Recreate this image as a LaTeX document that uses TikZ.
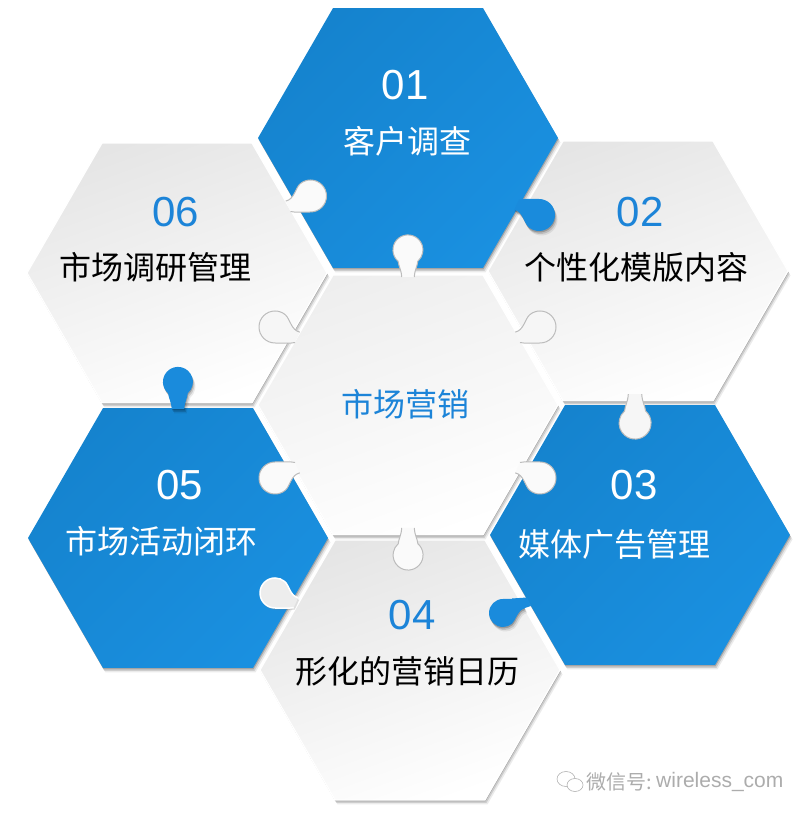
\documentclass[tikz,border=0pt]{standalone}
\usepackage{fontspec}
\setmainfont{Liberation Sans}
\newfontfamily\cjk{Noto Sans CJK SC}
\usepackage{xcolor}
\usetikzlibrary{shapes.geometric, shadows}
\definecolor{hexblue}{HTML}{1A8BDC}
\definecolor{hexbluedark}{HTML}{1583CE}
\definecolor{hexbluelight}{HTML}{1A90E0}
\definecolor{numblue}{HTML}{1C84D8}
\definecolor{rimgrey}{HTML}{BCBCBC}
\newcommand{\commatab}[4]{%
  \path[shift={(#1)}, rotate=#2, scale=#3, #4]
    (-1.25,.97) .. controls (-.9,1.05) and (-.4,1) .. (0,1)
    arc[start angle=90, end angle=-130, radius=1]
    .. controls (-.95,-.5) and (-1,.2) .. (-1.55,.32);
}
\newcommand{\droptab}[4]{%
  \path[shift={(#1)}, rotate=#2, scale=#3, #4]
    (-1.8,.42) .. controls (-1.3,.45) and (-1.1,.62) .. (-.75,.66)
    arc[start angle=139, end angle=-139, radius=1]
    .. controls (-1.1,-.62) and (-1.3,-.45) .. (-1.8,-.42);
}
\tikzset{
  softshadow/.style={
    general shadow={shadow xshift=.5pt, shadow yshift=-1.5pt, fill=black, opacity=.2},
    general shadow={shadow xshift=1.5pt, shadow yshift=-3pt, fill=black, opacity=.13},
    general shadow={shadow xshift=2.5pt, shadow yshift=-4.5pt, fill=black, opacity=.08}},
  hexcell/.style={regular polygon, regular polygon sides=6, minimum size=300,
                  inner sep=0pt, outer sep=0pt, softshadow},
  greyhex/.style={hexcell, draw=white, line width=1.2pt, top color=#1, bottom color=white,
                  shading angle=20},
  greyhex/.default=gray!20,
  bluehex/.style={hexcell, left color=hexbluedark, right color=hexbluelight, shading angle=45},
  tabblue/.style={fill=hexblue, softshadow},
  notchgrey/.style={fill=gray!7, draw=rimgrey, line width=1pt},
  notchwhite/.style={fill=gray!4, draw=rimgrey, line width=1pt},
  numtext/.style={font=\fontsize{42}{42}\selectfont, text=numblue},
  numwhite/.style={font=\fontsize{42}{42}\selectfont, text=white},
  cjktext/.style={font=\cjk\fontsize{32}{32}\selectfont}
}
\begin{document}
\begin{tikzpicture}[x=1pt, y=1pt]
  \useasboundingbox (0,0) rectangle (808,818);
  \node[greyhex] (hexsix) at (177,545) {};
  \node[greyhex] (hextwo) at (638,547) {};
  \node[greyhex] (hexfour) at (410,148) {};
  \node[greyhex=gray!13] (hexmid) at (408,413) {};
  \node[bluehex] (hexone) at (408,680) {};
  \node[bluehex] (hexthree) at (640,283) {};
  \node[bluehex] (hexfive) at (178,280) {};

  \commatab{310.5,622}{0}{16}{notchwhite, yscale=-1}
  \droptab{408,568}{90}{15}{notchwhite}
  \commatab{539,603}{0}{16}{tabblue}
  \commatab{275,491}{180}{16}{notchgrey}
  \commatab{540,491}{0}{16}{notchgrey, yscale=-1}
  \commatab{275,340}{180}{16}{notchwhite, yscale=-1}
  \commatab{540,340}{0}{16}{notchwhite}
  \droptab{408,263}{-90}{15}{notchwhite}
  \commatab{275,225}{180}{15}{fill=gray!14, draw=white, line width=1.5pt, drop shadow={shadow xshift=1pt, shadow yshift=-2pt, opacity=.25}}
  \commatab{503,205}{180}{14}{tabblue, yscale=-1}
  \fill[hexblue] (512,219.5) -- (527,220.5) -- (531,212) -- (519,208) -- cycle;
  \droptab{635,395}{-90}{16}{notchgrey}
  \droptab{178,436}{90}{15}{tabblue}

  \node[numwhite] (numone) at (405,733) {01};
  \node[cjktext, text=white] (labelone) at (407,677) {客户调查};
  \node[numtext] (numtwo) at (640,606) {02};
  \node[cjktext] (labeltwo) at (636,551) {个性化模版内容};
  \node[numwhite] (numthree) at (634,333) {03};
  \node[cjktext, text=white] (labelthree) at (614,274) {媒体广告管理};
  \node[numtext] (numfour) at (412,203) {04};
  \node[cjktext] (labelfour) at (407,147) {形化的营销日历};
  \node[numwhite] (numfive) at (180,333) {05};
  \node[cjktext, text=white] (labelfive) at (161,277) {市场活动闭环};
  \node[numtext] (numsix) at (176,606) {06};
  \node[cjktext] (labelsix) at (155,551) {市场调研管理};
  \node[cjktext, text=numblue] (labelmid) at (405,414) {市场营销};

  \draw[gray!60, line width=.6pt] (566,39) ellipse [x radius=9, y radius=7.5];
  \draw[gray!60, line width=.6pt, fill=white] (575,33) ellipse [x radius=8, y radius=6.5];
  \node[font=\cjk\fontsize{20}{20}\selectfont, text=gray!65, anchor=west, inner sep=0pt] (markcn) at (586,36) {微信号:};
  \node[font=\fontsize{21}{21}\selectfont, text=gray!65, anchor=west, inner sep=0pt] (markid) at (656,36) {wireless\_com};
\end{tikzpicture}
\end{document}
